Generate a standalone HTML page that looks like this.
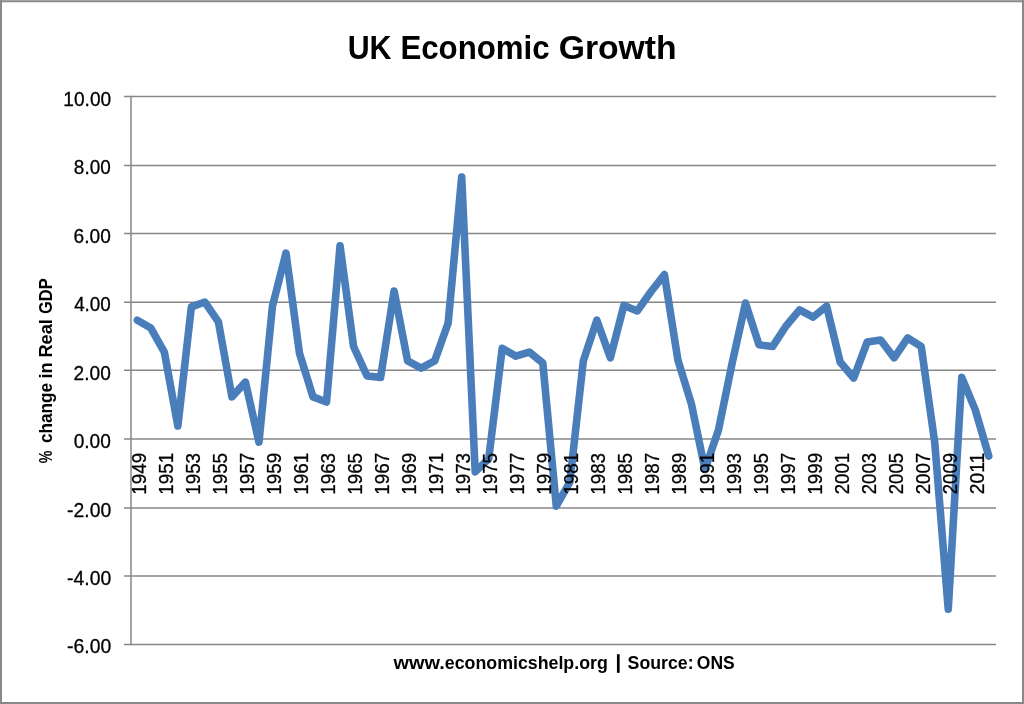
<!DOCTYPE html>
<html lang="en">
<head>
<meta charset="utf-8">
<title>UK Economic Growth</title>
<style>
html,body{margin:0;padding:0;background:#fff;}
body{width:1024px;height:704px;overflow:hidden;font-family:"Liberation Sans",sans-serif;}
svg{display:block;will-change:transform;}
</style>
</head>
<body>
<svg width="1024" height="704" viewBox="0 0 1024 704">
<rect x="1" y="1" width="1022" height="702" fill="none" stroke="#898989" stroke-width="2"/>
<rect x="2" y="0" width="1020" height="1" fill="#a4a4a4"/><rect x="2" y="2" width="1020" height="1" fill="#e2e2e2"/>
<g stroke="#878787" stroke-width="1.5" fill="none"><line x1="124.00" y1="96.60" x2="996.00" y2="96.60"/><line x1="124.00" y1="165.45" x2="996.00" y2="165.45"/><line x1="124.00" y1="233.50" x2="996.00" y2="233.50"/><line x1="124.00" y1="302.20" x2="996.00" y2="302.20"/><line x1="124.00" y1="370.25" x2="996.00" y2="370.25"/><line x1="124.00" y1="439.00" x2="996.00" y2="439.00"/><line x1="124.00" y1="507.90" x2="996.00" y2="507.90"/><line x1="124.00" y1="575.95" x2="996.00" y2="575.95"/><line x1="124.00" y1="644.50" x2="996.00" y2="644.50"/><line x1="131.00" y1="95.85" x2="131.00" y2="645.25"/></g>
<g font-family="'Liberation Sans', sans-serif" font-size="20.0" fill="#000" stroke="#000" stroke-width="0.3"><text transform="translate(63.37 105.90) scale(0.9561 1)">10.00</text><text transform="translate(73.85 173.99) scale(0.9464 1)">8.00</text><text transform="translate(73.59 242.62) scale(0.9556 1)">6.00</text><text transform="translate(74.13 311.11) scale(0.9416 1)">4.00</text><text transform="translate(73.59 379.60) scale(0.9556 1)">2.00</text><text transform="translate(73.69 448.34) scale(0.9558 1)">0.00</text><text transform="translate(67.08 516.57) scale(0.9681 1)">-2.00</text><text transform="translate(67.08 585.06) scale(0.9681 1)">-4.00</text><text transform="translate(67.08 653.20) scale(0.9681 1)">-6.00</text></g>
<polyline points="137.31,320.17 150.82,328.05 164.34,352.02 177.85,425.99 191.37,306.82 204.89,302.02 218.40,321.89 231.92,396.88 245.43,382.16 258.95,442.08 272.46,306.13 285.98,253.06 299.50,353.39 313.01,396.88 326.53,402.02 340.04,245.87 353.56,346.54 367.07,375.99 380.59,377.36 394.10,291.07 407.62,360.92 421.14,368.12 434.65,360.92 448.17,322.91 461.68,177.04 475.20,471.87 488.71,458.86 502.23,348.25 515.75,356.13 529.26,352.02 542.78,362.98 556.29,506.12 569.81,482.15 583.32,360.92 596.84,320.17 610.35,357.84 623.87,305.45 637.39,310.93 650.90,291.75 664.42,274.63 677.93,360.24 691.45,404.07 704.96,469.48 718.48,430.10 732.00,363.66 745.51,303.05 759.03,344.83 772.54,346.54 786.06,326.00 799.57,309.90 813.09,317.09 826.60,306.13 840.12,361.95 853.64,378.05 867.15,342.09 880.67,340.04 894.18,357.84 907.70,337.98 921.21,346.54 934.73,442.42 948.25,609.19 961.76,377.36 975.28,409.89 988.79,456.12" fill="none" stroke="#4a7ebb" stroke-width="7.6" stroke-linejoin="round" stroke-linecap="round"/>
<g font-family="'Liberation Sans', sans-serif" font-size="19.7" fill="#000" stroke="#000" stroke-width="0.3"><text transform="translate(145.86 494.71) rotate(-90) scale(0.9549 1)">1949</text><text transform="translate(172.89 494.71) rotate(-90) scale(0.9560 1)">1951</text><text transform="translate(199.92 494.71) rotate(-90) scale(0.9537 1)">1953</text><text transform="translate(226.95 494.71) rotate(-90) scale(0.9526 1)">1955</text><text transform="translate(253.98 494.71) rotate(-90) scale(0.9571 1)">1957</text><text transform="translate(281.01 494.71) rotate(-90) scale(0.9549 1)">1959</text><text transform="translate(308.05 494.71) rotate(-90) scale(0.9560 1)">1961</text><text transform="translate(335.08 494.71) rotate(-90) scale(0.9537 1)">1963</text><text transform="translate(362.11 494.71) rotate(-90) scale(0.9526 1)">1965</text><text transform="translate(389.14 494.71) rotate(-90) scale(0.9571 1)">1967</text><text transform="translate(416.17 494.71) rotate(-90) scale(0.9549 1)">1969</text><text transform="translate(443.20 494.71) rotate(-90) scale(0.9560 1)">1971</text><text transform="translate(470.23 494.71) rotate(-90) scale(0.9537 1)">1973</text><text transform="translate(497.26 494.71) rotate(-90) scale(0.9526 1)">1975</text><text transform="translate(524.30 494.71) rotate(-90) scale(0.9571 1)">1977</text><text transform="translate(551.33 494.71) rotate(-90) scale(0.9549 1)">1979</text><text transform="translate(578.36 494.71) rotate(-90) scale(0.9560 1)">1981</text><text transform="translate(605.39 494.71) rotate(-90) scale(0.9537 1)">1983</text><text transform="translate(632.42 494.71) rotate(-90) scale(0.9526 1)">1985</text><text transform="translate(659.45 494.71) rotate(-90) scale(0.9571 1)">1987</text><text transform="translate(686.48 494.71) rotate(-90) scale(0.9549 1)">1989</text><text transform="translate(713.51 494.71) rotate(-90) scale(0.9560 1)">1991</text><text transform="translate(740.55 494.71) rotate(-90) scale(0.9537 1)">1993</text><text transform="translate(767.58 494.71) rotate(-90) scale(0.9526 1)">1995</text><text transform="translate(794.61 494.71) rotate(-90) scale(0.9571 1)">1997</text><text transform="translate(821.64 494.71) rotate(-90) scale(0.9549 1)">1999</text><text transform="translate(848.67 494.23) rotate(-90) scale(0.9448 1)">2001</text><text transform="translate(875.70 494.23) rotate(-90) scale(0.9425 1)">2003</text><text transform="translate(902.73 494.23) rotate(-90) scale(0.9414 1)">2005</text><text transform="translate(929.76 494.23) rotate(-90) scale(0.9459 1)">2007</text><text transform="translate(956.80 494.23) rotate(-90) scale(0.9436 1)">2009</text><text transform="translate(983.83 494.26) rotate(-90) scale(0.9781 1)">2011</text></g>
<g font-family="'Liberation Sans', sans-serif" font-weight="bold" font-size="32.6" fill="#000"><text transform="translate(347.68 58.80) scale(0.9314 1)">UK</text><text transform="translate(400.39 58.80) scale(0.9581 1)">Economic</text><text transform="translate(558.65 58.80) scale(1.0348 1)">Growth</text></g>
<g font-family="'Liberation Sans', sans-serif" font-weight="bold" font-size="19.0" fill="#000"><text transform="translate(52.10 463.36) rotate(-90) scale(0.7541 1)">%</text><text transform="translate(52.10 443.09) rotate(-90) scale(0.9044 1)">change</text><text transform="translate(52.10 378.59) rotate(-90) scale(0.9693 1)">in</text><text transform="translate(52.10 357.53) rotate(-90) scale(0.9567 1)">Real</text><text transform="translate(52.10 313.96) rotate(-90) scale(0.8678 1)">GDP</text></g>
<g font-family="'Liberation Sans', sans-serif" font-weight="bold" font-size="19.0" fill="#000"><text transform="translate(393.45 669.10) scale(1.0484 1)">www.</text><text transform="translate(444.79 669.10) scale(0.9365 1)">economicshelp.org</text><text transform="translate(627.57 669.10) scale(0.9334 1)">Source:</text><text transform="translate(696.80 669.10) scale(0.9203 1)">ONS</text></g>
<rect x="616.95" y="654.2" width="2.7" height="18.6" fill="#000"/>
</svg>
</body>
</html>
